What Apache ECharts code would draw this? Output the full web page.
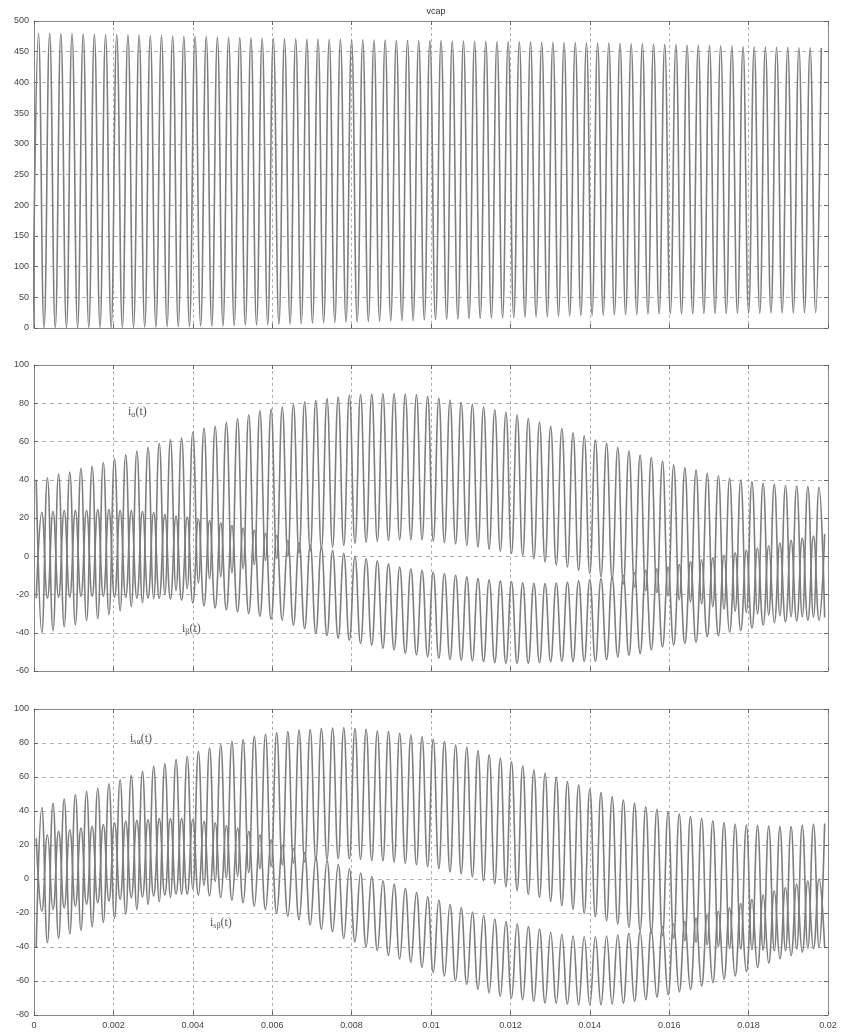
<!DOCTYPE html>
<html>
<head>
<meta charset="utf-8">
<script src="https://cdn.jsdelivr.net/npm/echarts@6/dist/echarts.min.js"></script>
<style>html,body{margin:0;padding:0;background:#fff}#c{width:841px;height:1035px}</style>
</head>
<body>
<div id="c"></div>
<script>
// ---- data (one value per switching cycle) ----
const CYCLES = 71;          // ripple cycles across 0..0.02 s
const T_END = 0.02;
const xTickLabels = ['0','0.002','0.004','0.006','0.008','0.01','0.012','0.014','0.016','0.018','0.02'];
const yTicksTop = [0,50,100,150,200,250,300,350,400,450,500];
const yTicksMid = [-60,-40,-20,0,20,40,60,80,100];
const yTicksBot = [-80,-60,-40,-20,0,20,40,60,80,100];

// vcap peaks / troughs
const vcapHi = [480,480,479.5,479,479,478.5,478,478,477.5,477,
 476,476,475.5,475,475,474.5,474,473.5,473,472.5,
 472,471.5,471,471,470.5,470.5,470,470,469.5,469.5,
 469,469,468.5,468.5,468,468,468,467.5,467.5,467,
 467,466.5,466.5,466,466,465.5,465.5,465,465,464.5,
 464,464,463.5,463,463,462.5,462,461.5,461,460.5,
 460,459.5,459,458.5,458,457.5,457,457,456.5,456.5,
 456];
const vcapLo = [0,0,0,0,0.5,0.5,0.5,1,1,1,
 1.5,1.5,2,2,2.5,3,3,3.5,4,4.5,
 5,5.5,6,6.5,7,8,8.5,9,9.5,10,
 10.5,11,11.5,12,12,13,13.5,14,14.5,15,
 15.5,16,16.5,17,17.5,18,18.5,19,19.5,20,
 20.5,21,21.5,22,22,22.5,22.5,23,23,23,
 23.5,23.5,23.5,24,24,24,24.5,24.5,24.5,25,
 25];

// i_alpha peaks / troughs (middle panel)
const iaHi = [40,41,43,44,46,47,49,51,53,55,
 57,59,61,62,65,67,68,70,72,74,
 76,77,78,79.5,80.7,81.6,82.4,83.3,84.2,84.5,
 84.8,85,85,84.8,84.4,83.6,82.6,81.6,80.5,79.4,
 78,76.6,75.3,73.8,72,70,68,66.8,64.6,62.9,
 60.8,59,56.8,55,52.9,51.6,49.8,47.7,46.3,45.1,
 43.4,42,40.8,39.9,39,38.1,37.6,36.9,36.7,36.4,
 36];
const iaLo = [-40,-38.9,-36.8,-35.8,-33.7,-32.6,-30.5,-28.5,-26.4,-24.3,
 -22.2,-20.1,-18,-17,-13.9,-11.8,-10.7,-8.6,-6.5,-4.4,
 -2.3,-1.2,-0.1,1.5,2.8,3.8,4.7,5.7,6.7,7.3,
 7.8,8.3,8.6,8.6,8.5,8,7.2,6.5,5.7,4.8,
 3.7,2.6,1.5,0.3,-1.2,-3,-4.7,-5.6,-7.4,-8.9,
 -10.8,-12.4,-14.5,-16.1,-18,-19.1,-20.7,-22.7,-23.9,-24.9,
 -26.4,-27.6,-28.7,-29.4,-30.1,-30.8,-31.1,-31.6,-31.7,-31.8,
 -32];
// i_beta peaks / troughs (middle panel)
const ibHi = [23,23.5,24,24,24,24.5,24.5,24,24,23.5,
 23,22,21,20.5,19.5,18.8,17.5,16,14.8,13.6,
 12,11,8.4,7.2,6,4.9,3.1,1.5,0,-1.2,
 -2.4,-4,-5.6,-6.5,-7.4,-8.2,-9,-9.9,-10.8,-11.7,
 -12.3,-12.9,-13.4,-13.9,-14.1,-14.3,-14,-13.6,-12.8,-12.2,
 -11.7,-10.8,-9.9,-8.5,-7.3,-6.5,-5.6,-4.3,-2.9,-1.8,
 -0.8,0.5,1.8,3.1,4.3,5.5,6.9,8.4,9.5,10.5,
 11.6];
const ibLo = [-22,-22,-21.5,-21.5,-21,-21,-21,-21.5,-21.5,-22,
 -22,-22,-22.5,-23,-24.5,-26,-27,-28,-29,-30,
 -31.5,-33,-33.5,-36,-37.8,-40.4,-41.5,-43,-44,-45.6,
 -46.5,-48.2,-49,-50.8,-51.6,-52.5,-53.4,-54,-54.3,-54.8,
 -55.2,-55.6,-56,-56,-56,-55.6,-55.2,-55,-55,-55,
 -55,-54,-52.6,-51.8,-50.9,-49,-47.4,-46.5,-45.6,-45,
 -42,-41.5,-39.7,-38.8,-37.5,-36,-34.8,-34.3,-33.8,-33.5,
 -33.5];

// i_s_alpha peaks / troughs (bottom panel)
const isaHi = [42,44.5,47,49.5,51.5,53.4,56,58.4,60.8,63.3,
 66.3,67.8,70.2,72.1,75,77,79,81,82,84,
 85,86,86.7,87.6,87.9,88.5,88.8,89,88.5,88.1,
 87.1,86.7,85.7,84.7,83.7,82.2,80.8,78.8,77.5,75.5,
 73,71,69,66.5,64.1,62.2,59.8,57.3,55.3,52.7,
 50.8,48.4,46.5,44.5,42.5,41,39.6,38.2,36.7,35.7,
 34.3,33.2,32.2,31.8,31.4,31.2,30.8,30.8,31.8,32.2,
 32.7];
const isaLo = [-40,-37.5,-34.9,-32.3,-30.2,-28.2,-25.5,-23.1,-20.6,-18,
 -14.9,-13.3,-10.9,-8.9,-5.9,-3.7,-1.6,0.6,1.7,3.9,
 6,7.3,8.3,9.4,10,10.9,11.5,12,11.7,11.6,
 10.8,10.7,9.9,9.2,8.4,7.2,6,4.2,3.1,1.3,
 -1,-2.8,-4.6,-6.9,-9.1,-10.8,-13.2,-15.7,-17.7,-20.3,
 -22.2,-24.6,-26.5,-28.5,-30.5,-32,-33.4,-34.8,-36.3,-37.3,
 -38.7,-39.8,-40.8,-41.2,-41.6,-41.8,-42.2,-42.2,-41.2,-40.8,
 -40.3];
// i_s_beta peaks / troughs (bottom panel)
const isbHi = [24,26,28,29,30,31,32,33,34,34.5,
 35,35.5,35.5,35.5,35,34,33,31.5,30,28,
 26,23,20,18,15.5,13,11,8.5,6,3.5,
 1.5,-1,-3,-5.5,-8,-10.5,-12.5,-15,-17,-19.5,
 -21.5,-23.5,-25,-26.5,-28,-29.5,-31.5,-32.5,-33.5,-34,
 -34,-33.5,-33,-32,-31,-29.5,-28,-26.5,-25,-23,
 -21,-19,-17,-14.5,-12,-9.5,-7,-5,-3,-1,
 0];
const isbLo = [-19,-18,-17,-16,-15,-14,-13,-12,-11,-10.5,
 -10,-9.5,-9,-9,-9.5,-10,-11,-12.5,-14,-16,
 -18,-20,-22,-24,-27,-29.6,-31,-35,-37,-40,
 -42,-45,-47,-49,-52,-55,-57,-60,-62,-65,
 -67,-69,-70,-71,-72,-73,-73,-73.5,-74,-74,
 -74,-73.5,-73,-72,-71,-69.5,-68,-66.5,-65,-63,
 -61,-59,-57,-54.5,-52,-49.5,-47,-45,-43,-41,
 -40];

// ---- build line data: peaks and troughs placed on the cycle time grid ----
const T = T_END / CYCLES;
function wave(hi, lo, phHi, phLo) {
  const pts = [];
  for (let k = 0; k < hi.length; k++) {
    pts.push([(k + phHi) * T, hi[k]]);
    pts.push([(k + phLo) * T, lo[k]]);
  }
  pts.sort((a, b) => a[0] - b[0]);
  return pts;
}

const LINE = '#7e7e7e';
const GRIDC = '#b0b0b0';
const AXC = '#8a8a8a';
const grids = [
  {left: 34, width: 794, top: 21, height: 307},
  {left: 34, width: 794, top: 365, height: 306},
  {left: 34, width: 794, top: 709, height: 306}
];
const yDefs = [yTicksTop, yTicksMid, yTicksBot];

const xAxis = [], yAxis = [];
for (let i = 0; i < 3; i++) {
  xAxis.push({
    type: 'value', gridIndex: i, min: 0, max: T_END, interval: 0.002,
    axisLine: {show: true, onZero: false, lineStyle: {color: AXC, width: 1}},
    axisTick: {show: true, inside: true, length: 4, lineStyle: {color: '#666'}},
    axisLabel: {show: i === 2, fontSize: 9, color: '#444', fontFamily: 'Liberation Sans, Arial', margin: 6,
      formatter: v => xTickLabels[Math.round(v / 0.002)] || ''},
    splitLine: {show: true, lineStyle: {color: GRIDC, type: [3, 3], width: 1}}
  });
  xAxis.push({
    type: 'value', gridIndex: i, min: 0, max: T_END, interval: 0.002, position: 'top',
    axisLine: {show: true, onZero: false, lineStyle: {color: AXC, width: 1}},
    axisTick: {show: true, inside: true, length: 4, lineStyle: {color: '#666'}},
    axisLabel: {show: false}, splitLine: {show: false}
  });
  const yt = yDefs[i];
  const yi = yt[1] - yt[0];
  yAxis.push({
    type: 'value', gridIndex: i, min: yt[0], max: yt[yt.length - 1], interval: yi,
    axisLine: {show: true, onZero: false, lineStyle: {color: AXC, width: 1}},
    axisTick: {show: true, inside: true, length: 4, lineStyle: {color: '#666'}},
    axisLabel: {show: true, fontSize: 9, color: '#444', fontFamily: 'Liberation Sans, Arial', margin: 5},
    splitLine: {show: true, lineStyle: {color: GRIDC, type: [4, 4], width: 1}}
  });
  yAxis.push({
    type: 'value', gridIndex: i, min: yt[0], max: yt[yt.length - 1], interval: yi, position: 'right',
    axisLine: {show: true, onZero: false, lineStyle: {color: AXC, width: 1}},
    axisTick: {show: true, inside: true, length: 4, lineStyle: {color: '#666'}},
    axisLabel: {show: false}, splitLine: {show: false}
  });
}

function ser(name, xi, yi, data) {
  return {
    name, type: 'line', xAxisIndex: xi, yAxisIndex: yi, data,
    showSymbol: false, smooth: 0.45, clip: true, animation: false,
    lineStyle: {color: LINE, width: 1.6}
  };
}

const series = [
  ser('vcap', 0, 0, wave(vcapHi, vcapLo, 0.4, -0.1)),
  ser('ia', 2, 2, wave(iaHi, iaLo, 0.2, 0.7)),
  ser('ib', 2, 2, wave(ibHi, ibLo, 0.7, 0.2)),
  ser('isa', 4, 4, wave(isaHi, isaLo, 0.7, 0.2)),
  ser('isb', 4, 4, wave(isbHi, isbLo, 0.2, 0.7))
];

const rich = {
  i: {fontSize: 12, fontFamily: 'Liberation Serif, Times New Roman', fill: '#555', color: '#555'},
  s: {fontSize: 8, fontFamily: 'Liberation Serif, Times New Roman', fill: '#555', color: '#555', verticalAlign: 'bottom', padding: [6, 0, 0, 0]}
};
function lab(x, y, sub) {
  return {type: 'text', left: x, top: y, z: 100,
    style: {text: '{i|i}{s|' + sub + '}{i|(t)}', rich: rich, fill: '#555'}};
}

const chart = echarts.init(document.getElementById('c'), null, {renderer: 'canvas'});
chart.setOption({
  animation: false,
  backgroundColor: '#fff',
  title: {text: 'vcap', left: 431, top: 2, textAlign: 'center',
    textStyle: {fontSize: 9, fontWeight: 'normal', color: '#333', fontFamily: 'Liberation Sans, Arial'}},
  grid: grids,
  xAxis, yAxis, series,
  graphic: [
    lab(128, 406, 'α'),
    lab(182, 623, 'β'),
    lab(130, 733, 'sα'),
    lab(210, 917, 'sβ')
  ]
});
</script>
</body>
</html>
